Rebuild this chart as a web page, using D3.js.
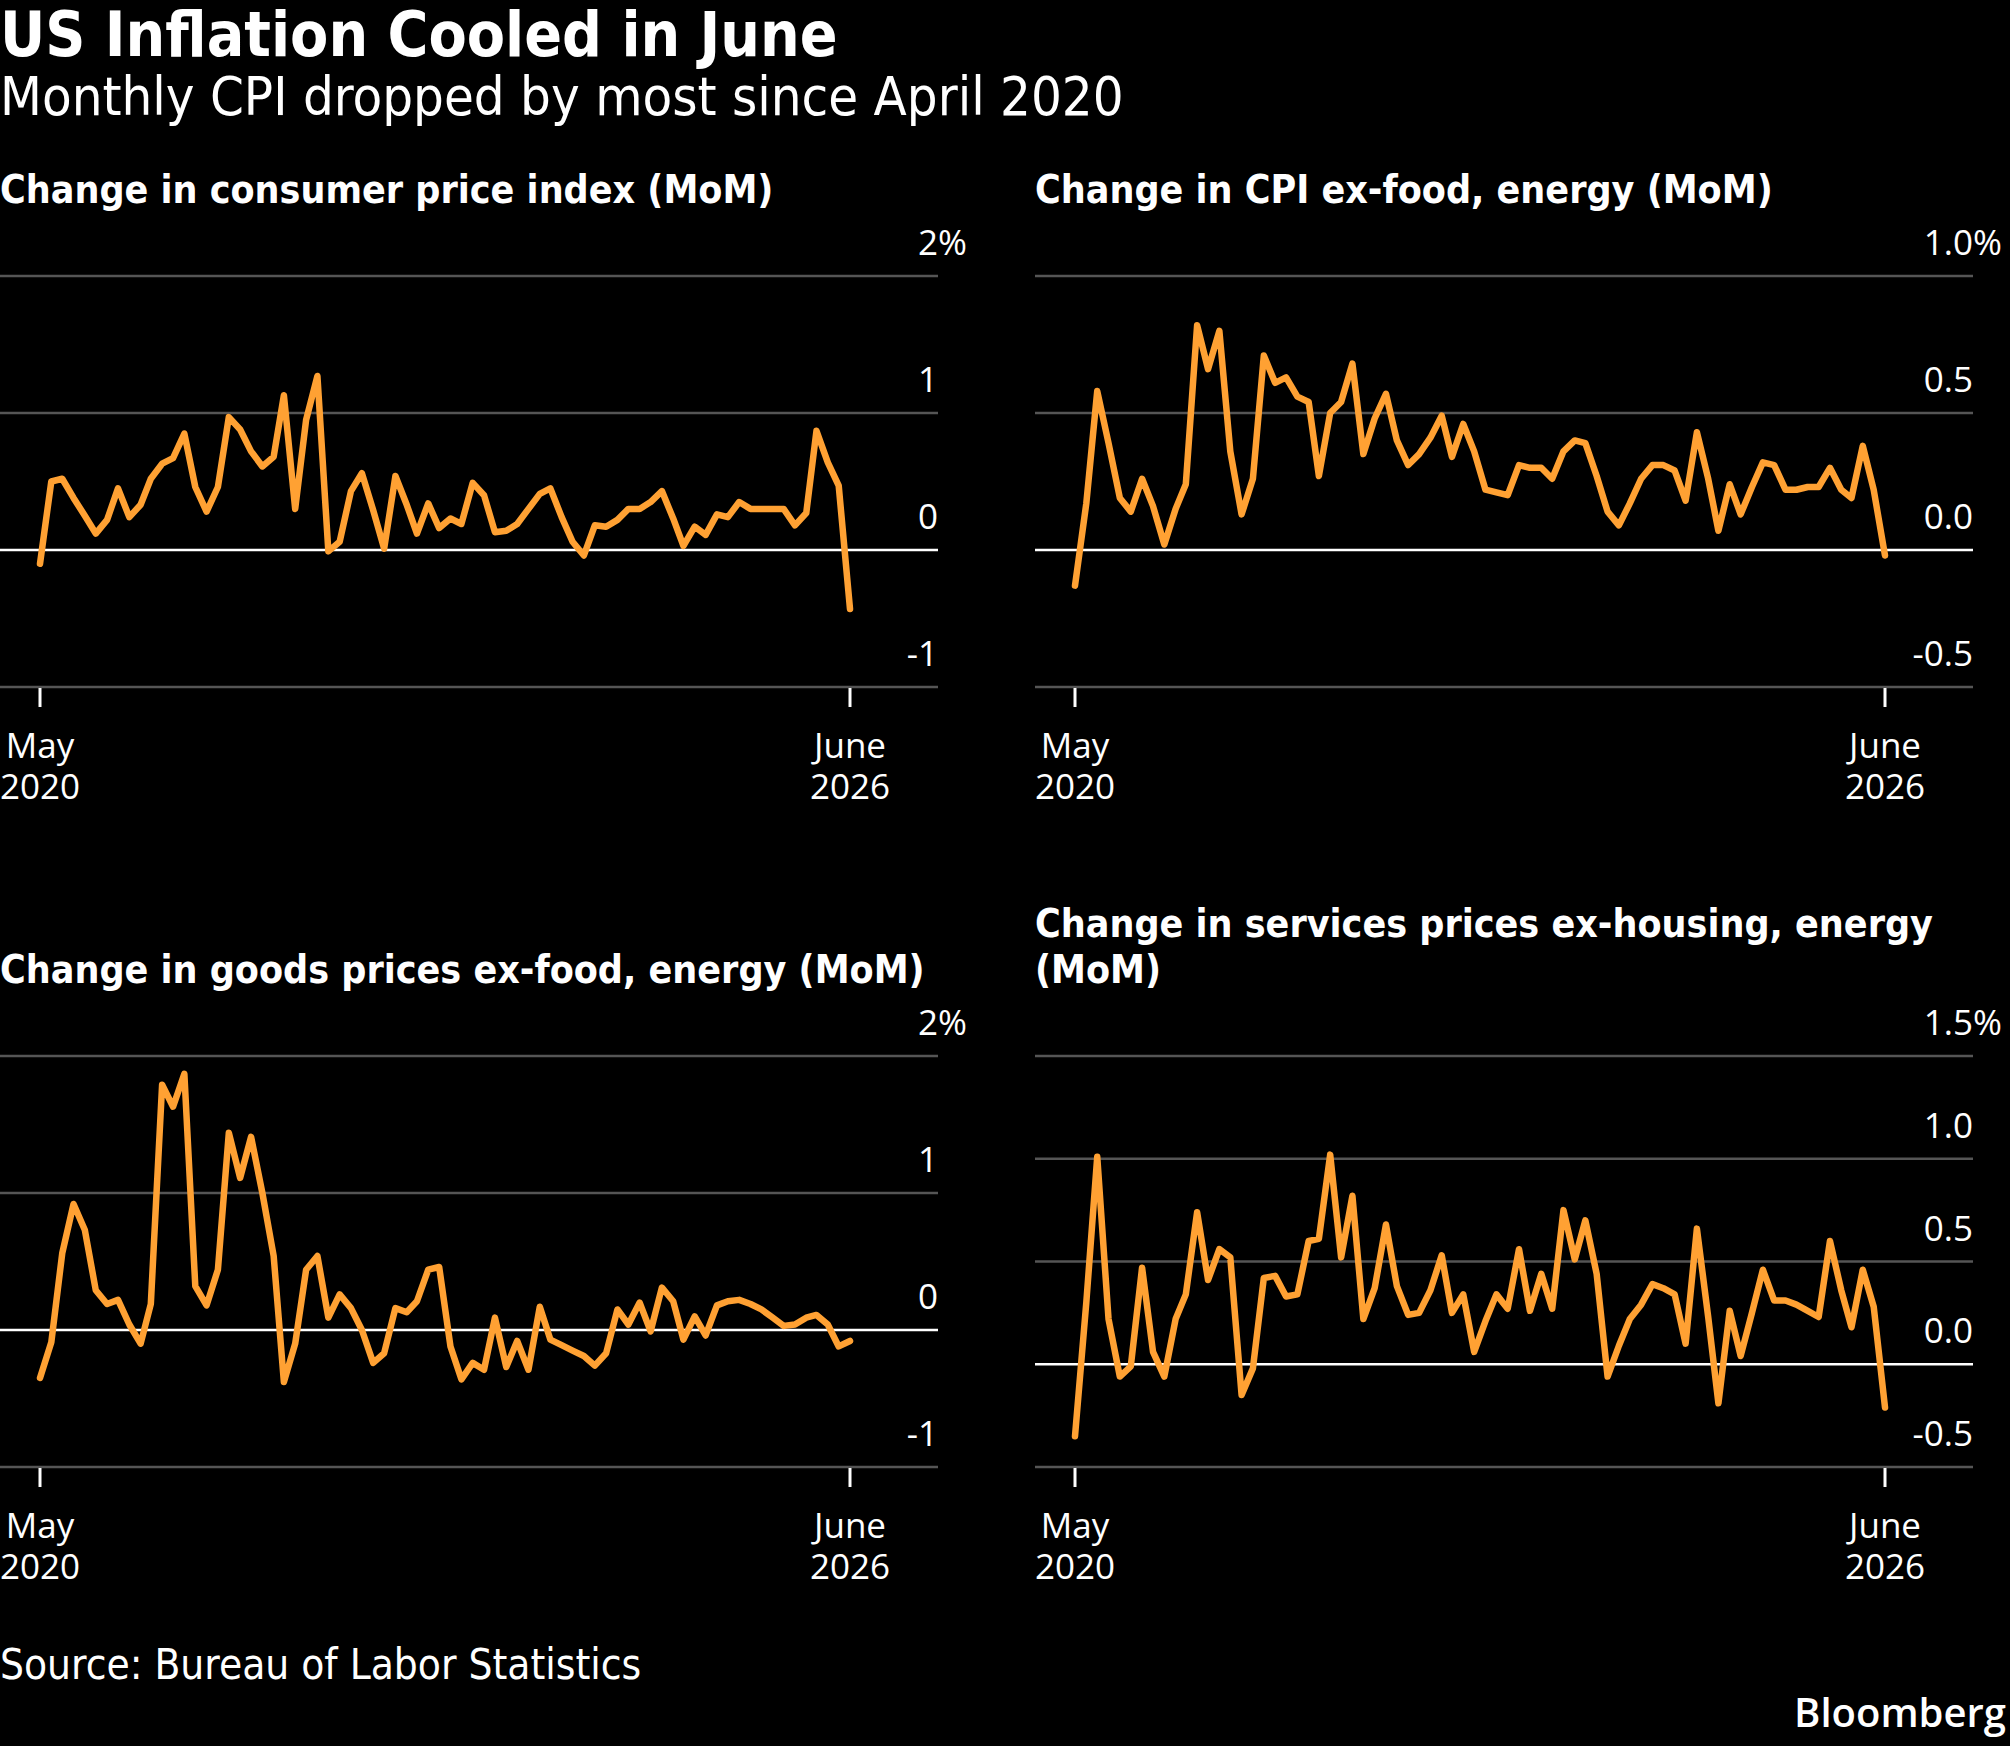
<!DOCTYPE html>
<html>
<head>
<meta charset="utf-8">
<script src="https://cdn.jsdelivr.net/npm/d3@7"></script>
<style>
  body { margin: 0; background: #000; }
  svg { display: block; }
  .cond { font-family: "DejaVu Sans Condensed", "DejaVu Sans"; font-stretch: condensed; }
  .tick { font-family: "Open Sans", "Noto Sans", sans-serif; }
</style>
</head>
<body>
<svg id="chart"></svg>
<script>
// monthly values, May 2020 .. June 2026
var cpi = [
  -0.10, 0.50, 0.52, 0.38, 0.25, 0.12, 0.22, 0.45, 0.24, 0.33,
  0.52, 0.63, 0.67, 0.85, 0.46, 0.28, 0.46, 0.97, 0.88, 0.72,
  0.61, 0.68, 1.13, 0.30, 0.95, 1.27, -0.01, 0.06, 0.43, 0.56,
  0.29, 0.01, 0.54, 0.33, 0.12, 0.34, 0.16, 0.23, 0.19, 0.49,
  0.40, 0.13, 0.14, 0.19, 0.30, 0.41, 0.45, 0.24, 0.06, -0.04,
  0.18, 0.17, 0.22, 0.30, 0.30, 0.35, 0.43, 0.23, 0.03, 0.17,
  0.11, 0.26, 0.24, 0.35, 0.30, 0.30, 0.30, 0.30, 0.18, 0.27,
  0.87, 0.64, 0.47, -0.43
];
var coreCpi = [
  -0.13, 0.17, 0.58, 0.39, 0.19, 0.14, 0.26, 0.16, 0.02, 0.15,
  0.24, 0.82, 0.66, 0.80, 0.36, 0.13, 0.26, 0.71, 0.61, 0.63,
  0.56, 0.54, 0.27, 0.50, 0.54, 0.68, 0.35, 0.48, 0.57, 0.40,
  0.31, 0.35, 0.41, 0.49, 0.34, 0.46, 0.36, 0.22, 0.21, 0.20,
  0.31, 0.30, 0.30, 0.26, 0.36, 0.40, 0.39, 0.27, 0.14, 0.09,
  0.17, 0.26, 0.31, 0.31, 0.29, 0.18, 0.43, 0.26, 0.07, 0.24,
  0.13, 0.23, 0.32, 0.31, 0.22, 0.22, 0.23, 0.23, 0.30, 0.22,
  0.19, 0.38, 0.22, -0.02
];
var coreGoods = [
  -0.35, -0.09, 0.56, 0.92, 0.73, 0.29, 0.19, 0.22, 0.04, -0.10,
  0.19, 1.79, 1.63, 1.87, 0.32, 0.18, 0.44, 1.44, 1.11, 1.41,
  1.00, 0.54, -0.38, -0.10, 0.44, 0.54, 0.09, 0.26, 0.16, 0.00,
  -0.24, -0.17, 0.16, 0.13, 0.21, 0.44, 0.46, -0.12, -0.36, -0.24,
  -0.29, 0.09, -0.27, -0.08, -0.29, 0.17, -0.07, -0.11, -0.15, -0.19,
  -0.26, -0.17, 0.15, 0.04, 0.20, -0.01, 0.31, 0.21, -0.07, 0.10,
  -0.04, 0.18, 0.21, 0.22, 0.19, 0.15, 0.09, 0.03, 0.04, 0.09,
  0.11, 0.04, -0.12, -0.08
];
var superCore = [
  -0.35, 0.30, 1.01, 0.22, -0.06, -0.01, 0.47, 0.06, -0.06, 0.22,
  0.34, 0.74, 0.41, 0.56, 0.52, -0.15, -0.02, 0.42, 0.43, 0.33,
  0.34, 0.60, 0.61, 1.02, 0.52, 0.82, 0.22, 0.37, 0.68, 0.38,
  0.24, 0.25, 0.36, 0.53, 0.25, 0.34, 0.06, 0.21, 0.34, 0.27,
  0.56, 0.26, 0.44, 0.27, 0.75, 0.51, 0.70, 0.44, -0.06, 0.09,
  0.22, 0.29, 0.39, 0.37, 0.34, 0.10, 0.66, 0.23, -0.19, 0.26,
  0.04, 0.25, 0.46, 0.31, 0.31, 0.29, 0.26, 0.23, 0.60, 0.36,
  0.18, 0.46, 0.28, -0.21
];

var firstMonth = new Date(2020, 4, 1),
    lastMonth = new Date(2026, 5, 1),
    months = d3.timeMonth.range(firstMonth, d3.timeMonth.offset(lastMonth, 1));

var xTickDates = [firstMonth, lastMonth],
    xTickLabels = [["May", "2020"], ["June", "2026"]];

var cpiTicks = [-1, 0, 1, 2], cpiTickLabels = ["-1", "0", "1", "2"];
var coreTicks = [-0.5, 0, 0.5, 1], coreTickLabels = ["-0.5", "0.0", "0.5", "1.0"];
var goodsTicks = [-1, 0, 1, 2], goodsTickLabels = ["-1", "0", "1", "2"];
var superTicks = [-0.5, 0, 0.5, 1, 1.5], superTickLabels = ["-0.5", "0.0", "0.5", "1.0", "1.5"];

var width = 2010, height = 1746,
    panelWidth = 938,
    lineColour = "#ffa133",
    gridColour = "#555555";

var panels = [
  {title: ["Change in consumer price index (MoM)"], values: cpi, ticks: cpiTicks, labels: cpiTickLabels, left: 0, top: 0},
  {title: ["Change in CPI ex-food, energy (MoM)"], values: coreCpi, ticks: coreTicks, labels: coreTickLabels, left: 1035, top: 0},
  {title: ["Change in goods prices ex-food, energy (MoM)"], values: coreGoods, ticks: goodsTicks, labels: goodsTickLabels, left: 0, top: 780},
  {title: ["Change in services prices ex-housing, energy", "(MoM)"], values: superCore, ticks: superTicks, labels: superTickLabels, left: 1035, top: 780}
];

var svg = d3.select("#chart")
  .attr("width", width)
  .attr("height", height)
  .style("background", "#000");

svg.append("text")
  .attr("class", "cond")
  .attr("x", 0).attr("y", 56)
  .attr("fill", "#fff")
  .attr("font-size", 62).attr("font-weight", "bold")
  .text("US Inflation Cooled in June");

svg.append("text")
  .attr("class", "cond")
  .attr("x", 0).attr("y", 115)
  .attr("fill", "#fff")
  .attr("font-size", 54)
  .text("Monthly CPI dropped by most since April 2020");

panels.forEach(drawPanel);

function drawPanel(p) {
  var g = svg.append("g").attr("transform", "translate(" + p.left + "," + p.top + ")");

  var x = d3.scaleTime()
    .domain([firstMonth, lastMonth])
    .range([40, 850]);

  var y = d3.scaleLinear()
    .domain(d3.extent(p.ticks))
    .range([687, 276]);

  // title: last line sits on the shared baseline
  g.append("text")
    .attr("class", "cond")
    .attr("fill", "#fff")
    .attr("font-size", 39).attr("font-weight", "bold")
    .selectAll("tspan")
    .data(p.title)
    .enter().append("tspan")
    .attr("x", 0)
    .attr("y", function(d, i) { return 203 - (p.title.length - 1 - i) * 46; })
    .text(function(d) { return d; });

  g.selectAll(null)
    .data(p.ticks)
    .enter().append("line")
    .attr("x1", 0).attr("x2", panelWidth)
    .attr("y1", function(d) { return y(d); })
    .attr("y2", function(d) { return y(d); })
    .attr("stroke", function(d) { return d === 0 ? "#fff" : gridColour; })
    .attr("stroke-width", 2.5);

  g.selectAll(null)
    .data(p.ticks)
    .enter().append("text")
    .attr("class", "tick")
    .attr("x", panelWidth)
    .attr("y", function(d) { return y(d) - 21; })
    .attr("text-anchor", "end")
    .attr("fill", "#fff")
    .attr("font-size", 35)
    .text(function(d, i) { return p.labels[i]; });

  g.append("text")
    .attr("class", "tick")
    .attr("x", panelWidth)
    .attr("y", y(d3.max(p.ticks)) - 21)
    .attr("fill", "#fff")
    .attr("font-size", 35)
    .text("%");

  var xt = g.selectAll(null)
    .data(xTickDates)
    .enter().append("g")
    .attr("transform", function(d) { return "translate(" + x(d) + ",0)"; });

  xt.append("line")
    .attr("y1", 688).attr("y2", 707)
    .attr("stroke", "#fff").attr("stroke-width", 3);

  xt.append("text")
    .attr("class", "tick")
    .attr("text-anchor", "middle")
    .attr("fill", "#fff")
    .attr("font-size", 35)
    .selectAll("tspan")
    .data(function(d, i) { return xTickLabels[i]; })
    .enter().append("tspan")
    .attr("x", 0)
    .attr("y", function(d, i) { return 758 + i * 41; })
    .text(function(d) { return d; });

  var line = d3.line()
    .x(function(d, i) { return x(months[i]); })
    .y(function(d) { return y(d); });

  g.append("path")
    .datum(p.values)
    .attr("fill", "none")
    .attr("stroke", lineColour)
    .attr("stroke-width", 6.5)
    .attr("stroke-linejoin", "round")
    .attr("stroke-linecap", "round")
    .attr("d", line);
}

svg.append("text")
  .attr("class", "cond")
  .attr("x", 0).attr("y", 1679)
  .attr("fill", "#fff")
  .attr("font-size", 42)
  .text("Source: Bureau of Labor Statistics");

svg.append("text")
  .attr("x", 2006).attr("y", 1727)
  .attr("text-anchor", "end")
  .attr("fill", "#fff")
  .attr("font-family", "'Open Sans', sans-serif")
  .attr("font-weight", 600)
  .attr("font-size", 40)
  .text("Bloomberg");
</script>
</body>
</html>
